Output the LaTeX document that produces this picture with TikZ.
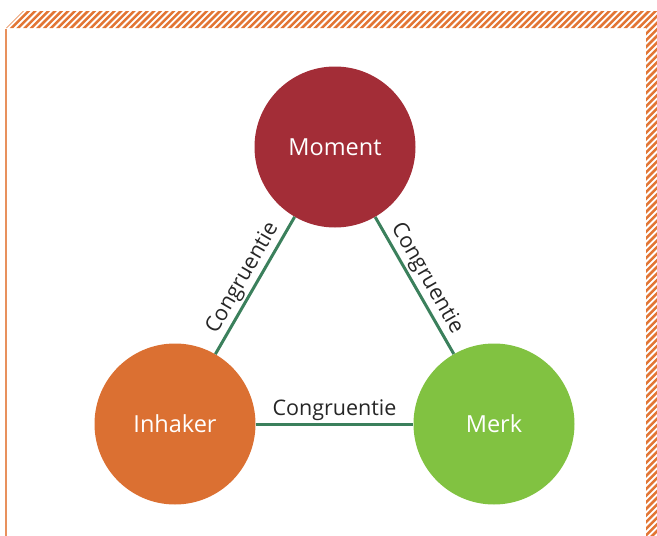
\documentclass[tikz,border=0pt]{standalone}
\usepackage{fontspec}
\setmainfont{Open Sans}
\definecolor{momentred}{RGB}{163,45,55}
\definecolor{inhakerorange}{RGB}{219,112,50}
\definecolor{merkgreen}{RGB}{129,194,65}
\definecolor{linkgreen}{RGB}{59,128,92}
\definecolor{frameorange}{RGB}{226,117,52}

\begin{document}
\begin{tikzpicture}[x=1pt, y=-1pt,
  blob/.style={circle, minimum size=161pt, inner sep=0pt, text=white, font=\fontsize{23.5}{28}\selectfont},
  link/.style={draw=linkgreen, line width=3pt},
  tag/.style={sloped, above, text=black!85, font=\fontsize{21.5}{25}\selectfont, inner sep=2pt},
  stripe/.style={draw=frameorange, line width=2.5pt}]
\useasboundingbox (0,0) rectangle (657,536);

% Frame
\begin{scope}
\clip (6,28) -- (23,11) -- (657,11) -- (657,536) -- (646,536) -- (646,28) -- cycle;
\foreach \i in {0,6.6,...,1250} \draw[stripe] (\i,0) -- ++(-600,600);
\end{scope}
\draw[frameorange!80, line width=2pt] (6,29) -- (6,536);

% Circles
\node[blob, fill=momentred] (moment) at (335,147) {Moment};
\node[blob, fill=inhakerorange] (inhaker) at (175,424) {Inhaker};
\node[blob, fill=merkgreen] (merk) at (494,424) {Merk};

% Connectors
\draw[link] (inhaker) -- node[tag] {Congruentie} (moment);
\draw[link] (moment) -- node[tag] {Congruentie} (merk);
\draw[link] (inhaker) -- node[tag] {Congruentie} (merk);

\end{tikzpicture}
\end{document}
